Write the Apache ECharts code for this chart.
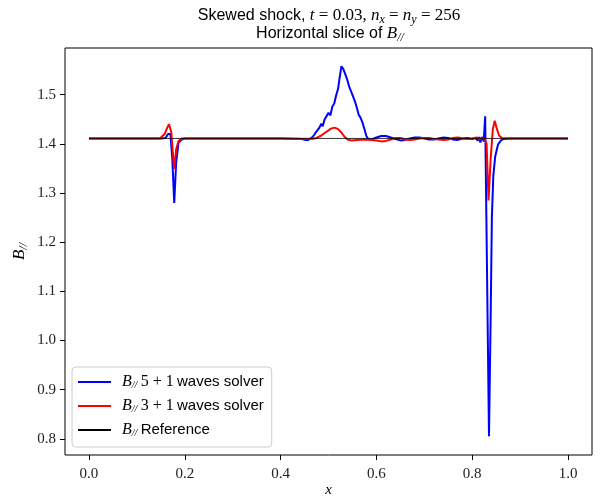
<!DOCTYPE html>
<html><head><meta charset="utf-8">
<script src="https://cdn.jsdelivr.net/npm/echarts@6/dist/echarts.min.js"></script>
<style>html,body{margin:0;padding:0;background:#fff}#c{width:600px;height:500px}</style>
</head><body><div id="c"></div>
<script>
// ---- data ----
const xTicks = [0.0, 0.2, 0.4, 0.6, 0.8, 1.0];
const yTicks = [0.8, 0.9, 1.0, 1.1, 1.2, 1.3, 1.4, 1.5];

const blueX = [0, 0.150, 0.160, 0.165, 0.170, 0.174, 0.178, 0.182, 0.187, 0.193, 0.200, 0.30, 0.40, 0.445, 0.452, 0.458,
  0.462, 0.466, 0.470, 0.474, 0.477, 0.481, 0.485, 0.488, 0.492, 0.496, 0.500, 0.504, 0.508, 0.512, 0.516, 0.520, 0.523,
  0.527, 0.531, 0.535, 0.539, 0.543, 0.547, 0.551, 0.555, 0.559, 0.563, 0.567, 0.571, 0.575, 0.579, 0.583, 0.590,
  0.600, 0.610, 0.620, 0.630, 0.640, 0.650, 0.660, 0.670, 0.680, 0.690, 0.700, 0.710, 0.720, 0.730, 0.740, 0.750,
  0.760, 0.770, 0.780, 0.790, 0.800, 0.806, 0.809, 0.812, 0.814, 0.817, 0.820, 0.824, 0.827, 0.835, 0.8385, 0.841,
  0.844, 0.848, 0.854, 0.860, 0.866, 0.880, 1.0];
const blueY = [1.411, 1.411, 1.412, 1.420, 1.420, 1.369, 1.280, 1.362, 1.403, 1.408, 1.411, 1.411, 1.411, 1.410, 1.408, 1.408,
  1.409, 1.413, 1.418, 1.424, 1.420, 1.433, 1.441, 1.436, 1.450, 1.446, 1.463, 1.458, 1.476, 1.482, 1.499, 1.512, 1.533,
  1.558, 1.552, 1.550, 1.531, 1.517, 1.507, 1.497, 1.487, 1.474, 1.459, 1.453, 1.443, 1.430, 1.416, 1.410, 1.409,
  1.413, 1.416, 1.416, 1.413, 1.410, 1.407, 1.408, 1.411, 1.413, 1.413, 1.411, 1.409, 1.409, 1.411, 1.413, 1.412,
  1.409, 1.408, 1.411, 1.412, 1.410, 1.412, 1.415, 1.407, 1.414, 1.403, 1.414, 1.405, 1.456, 0.805, 1.05, 1.25,
  1.335, 1.375, 1.399, 1.407, 1.410, 1.411, 1.411];

const redX = [0, 0.148, 0.158, 0.163, 0.167, 0.172, 0.175, 0.178, 0.182, 0.187, 0.191, 0.195, 0.30, 0.40, 0.465, 0.475,
  0.485, 0.495, 0.505, 0.513, 0.520, 0.527, 0.533, 0.540, 0.548, 0.560, 0.575, 0.590, 0.600, 0.610, 0.620, 0.630,
  0.640, 0.650, 0.660, 0.670, 0.680, 0.690, 0.700, 0.710, 0.720, 0.730, 0.740, 0.750, 0.760, 0.770, 0.780, 0.790,
  0.800, 0.810, 0.815, 0.820, 0.826, 0.830, 0.834, 0.8385, 0.843, 0.847, 0.851, 0.856, 0.862, 0.880, 1.0];
const redY = [1.411, 1.411, 1.420, 1.432, 1.440, 1.423, 1.382, 1.349, 1.389, 1.406, 1.406, 1.411, 1.411, 1.411, 1.410, 1.412,
  1.417, 1.424, 1.431, 1.433, 1.430, 1.423, 1.415, 1.409, 1.407, 1.408, 1.409, 1.408, 1.407, 1.405, 1.406, 1.409,
  1.412, 1.412, 1.409, 1.408, 1.409, 1.411, 1.412, 1.412, 1.410, 1.409, 1.408, 1.409, 1.412, 1.413, 1.411, 1.410,
  1.411, 1.413, 1.409, 1.412, 1.410, 1.400, 1.285, 1.370, 1.430, 1.447, 1.432, 1.417, 1.412, 1.411, 1.411];

const refX = [0, 1.0];
const refY = [1.411, 1.411];

const seriesNames = ['B5', 'B3', 'Bref'];
// ---- chart ----
const zip = (xs, ys) => xs.map((x, i) => [x, ys[i]]);
const serif = 'Liberation Serif';
const sans = 'Liberation Sans';
// transparent 1x1 image used as the (hidden) symbol so the legend shows only a line
const blankSymbol = 'image://data:image/gif;base64,R0lGODlhAQABAIAAAAAAAP///yH5BAEAAAAALAAAAAABAAEAAAIBRAA7';
const chart = echarts.init(document.getElementById('c'), null, {renderer: 'canvas'});
const mathRich = {
  s: {fontFamily: sans, fontSize: 16, fontWeight: 'normal', color: '#000', lineHeight: 20, verticalAlign: 'middle'},
  i: {fontFamily: serif, fontStyle: 'italic', fontWeight: 'normal', fontSize: 17, color: '#000', lineHeight: 20, verticalAlign: 'middle'},
  r: {fontFamily: serif, fontWeight: 'normal', fontSize: 17, color: '#000', lineHeight: 20, verticalAlign: 'middle'},
  sub: {fontFamily: serif, fontStyle: 'italic', fontWeight: 'normal', fontSize: 12, color: '#000', lineHeight: 20, verticalAlign: 'bottom'}
};
const legRich = {
  s: {fontFamily: sans, fontSize: 15, color: '#000'},
  i: {fontFamily: serif, fontStyle: 'italic', fontSize: 16, color: '#000'},
  r: {fontFamily: serif, fontSize: 16, color: '#000'},
  sub: {fontFamily: serif, fontStyle: 'italic', fontSize: 10, color: '#000', padding: [6, 0, 0, 0]}
};
const legendText = {
  B5: '{i|B}{sub|//} {r|5 + 1} {s|waves solver}',
  B3: '{i|B}{sub|//} {r|3 + 1} {s|waves solver}',
  Bref: '{i|B}{sub|//} {s|Reference}'
};
chart.setOption({
  animation: false,
  backgroundColor: '#fff',
  title: [
    {left: 324, top: 1, textAlign: 'center',
     text: '{s|Skewed shock, }{i|t}{r| = 0.03, }{i|n}{sub|x}{r| = }{i|n}{sub|y}{r| = 256}',
     textStyle: {rich: mathRich, fontWeight: 'normal'}},
    {left: 325, top: 19, textAlign: 'center',
     text: '{s|Horizontal slice of }{i|B}{sub|//}',
     textStyle: {rich: mathRich, fontWeight: 'normal'}}
  ],
  grid: {left: 65, right: 8, top: 48, bottom: 45, show: true, borderColor: '#000', borderWidth: 1,
         containLabel: false, outerBoundsMode: 'none'},
  legend: {
    orient: 'vertical', left: 72, top: 367,
    data: seriesNames,
    itemWidth: 33, itemHeight: 14, itemGap: 8,
    padding: [7, 8, 9, 5],
    backgroundColor: 'rgba(255,255,255,0.85)', borderColor: '#cccccc', borderWidth: 1, borderRadius: 4,
    formatter: n => legendText[n],
    textStyle: {rich: legRich, padding: [0, 0, 0, 6]}
  },
  xAxis: {
    type: 'value', min: -0.05, max: 1.05,
    name: 'x', nameLocation: 'middle', nameGap: 28, nameMoveOverlap: false,
    nameTextStyle: {fontFamily: serif, fontStyle: 'italic', fontSize: 15, color: '#000'},
    axisLine: {show: false},
    splitLine: {show: false},
    axisTick: {show: true, customValues: xTicks, length: 5, lineStyle: {color: '#000', width: 1}},
    axisLabel: {customValues: xTicks, formatter: v => v.toFixed(1), fontFamily: serif, fontSize: 15, color: '#222', margin: 12}
  },
  yAxis: {
    type: 'value', min: 0.767, max: 1.595,
    name: '{i|B}{sub|//}', nameLocation: 'middle', nameGap: 35, nameRotate: 90, nameMoveOverlap: false,
    nameTextStyle: {rich: mathRich},
    axisLine: {show: false, onZero: false},
    splitLine: {show: false},
    axisTick: {show: true, customValues: yTicks, length: 5, lineStyle: {color: '#000', width: 1}},
    axisLabel: {customValues: yTicks, formatter: v => v.toFixed(1), fontFamily: serif, fontSize: 15, color: '#222', margin: 9}
  },
  series: [
    {name: 'B5', type: 'line', data: zip(blueX, blueY), symbol: blankSymbol, showSymbol: false, lineStyle: {color: '#0000ff', width: 2}, itemStyle: {color: '#0000ff'}, z: 2},
    {name: 'B3', type: 'line', data: zip(redX, redY), symbol: blankSymbol, showSymbol: false, lineStyle: {color: '#ff0000', width: 2}, itemStyle: {color: '#ff0000'}, z: 3},
    {name: 'Bref', type: 'line', data: zip(refX, refY), symbol: blankSymbol, showSymbol: false, lineStyle: {color: '#000000', width: 0.8}, itemStyle: {color: '#000'}, z: 4}
  ]
});
</script></body></html>
